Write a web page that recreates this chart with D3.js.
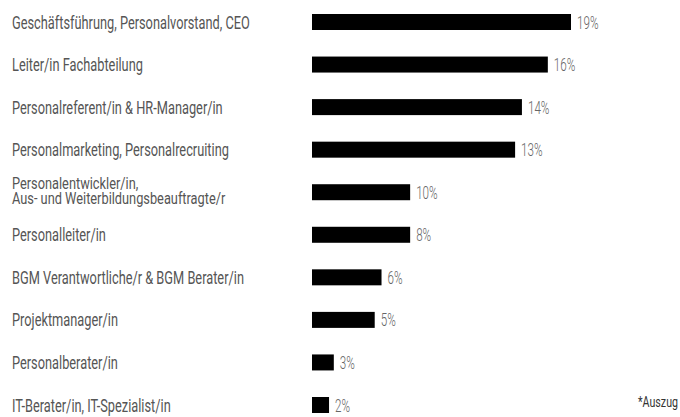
<!DOCTYPE html>
<html><head><meta charset="utf-8">
<script src="https://cdn.jsdelivr.net/npm/d3@7"></script>
<style>body{margin:0;background:#fff}svg{display:block}</style>
</head><body>
<svg id="c" width="680" height="417"></svg>
<script>
// Data
const categories = [
  "Geschäftsführung, Personalvorstand, CEO",
  "Leiter/in Fachabteilung",
  "Personalreferent/in & HR-Manager/in",
  "Personalmarketing, Personalrecruiting",
  "Personalentwickler/in,\nAus- und Weiterbildungsbeauftragte/r",
  "Personalleiter/in",
  "BGM Verantwortliche/r & BGM Berater/in",
  "Projektmanager/in",
  "Personalberater/in",
  "IT-Berater/in, IT-Spezialist/in"
];
const percentValues = [19, 16, 14, 13, 10, 8, 6, 5, 3, 2];
// bar lengths as drawn in the reference (same units, scaled to the 19% bar)
const barValues = [19, 17.3, 15.4, 14.9, 7.2, 7.2, 5.1, 4.6, 1.6, 1.25];
const footnote = "*Auszug";

const svg = d3.select("#c");
const FONT = "Roboto, 'Liberation Sans', 'DejaVu Sans', sans-serif";

const x = d3.scaleLinear().domain([0, 19]).range([312, 571]);
const y = d3.scalePoint().domain(categories).range([22, 405]);
const barH = 16;

const rows = categories.map((c, i) => ({c, i, v: barValues[i], p: percentValues[i]}));

// bars
svg.append("g").selectAll("rect").data(rows).join("rect")
  .attr("x", x(0))
  .attr("y", d => y(d.c) - barH / 2)
  .attr("width", d => x(d.v) - x(0))
  .attr("height", barH)
  .attr("fill", "#000");

// category labels
const labG = svg.append("g");
const labs = labG.selectAll("text").data(rows).join("text")
  .attr("font-family", FONT)
  .attr("font-size", d => d.c.includes("\n") ? 17 : 18)
  .attr("font-weight", 400)
  .attr("fill", "#555");
labs.each(function(d) {
  const lines = d.c.split("\n");
  const t = d3.select(this);
  const base = lines.length > 1 ? -3.5 : 6.5;
  lines.forEach((ln, k) => {
    t.append("tspan").attr("x", 0).attr("y", base + k * 15.5).text(ln);
  });
});
// compress to match the condensed face of the reference
const w0 = labs.filter(d => d.i === 0).node().getComputedTextLength();
const sxL = 238 / w0;
labs.attr("transform", d => `translate(12,${y(d.c)}) scale(${sxL * (d.c.includes("\n") ? 18 / 17 : 1)},1)`);

// percent labels
const pct = svg.append("g").selectAll("text").data(rows).join("text")
  .attr("font-family", FONT)
  .attr("font-size", 19)
  .attr("font-weight", 300)
  .attr("fill", "#666")
  .text(d => d.p + "%");
const wp = pct.filter(d => d.i === 0).node().getComputedTextLength();
const sxP = 21.5 / wp;
pct.attr("transform", d => `translate(${x(d.v) + 6},${y(d.c) + 6.5}) scale(${sxP},1)`);

// footnote
svg.append("text")
  .attr("font-family", FONT)
  .attr("font-size", 15)
  .attr("fill", "#333")
  .attr("text-anchor", "end")
  .text(footnote)
  .attr("transform", `translate(678,407) scale(${sxL},1)`);
</script>
</body></html>
